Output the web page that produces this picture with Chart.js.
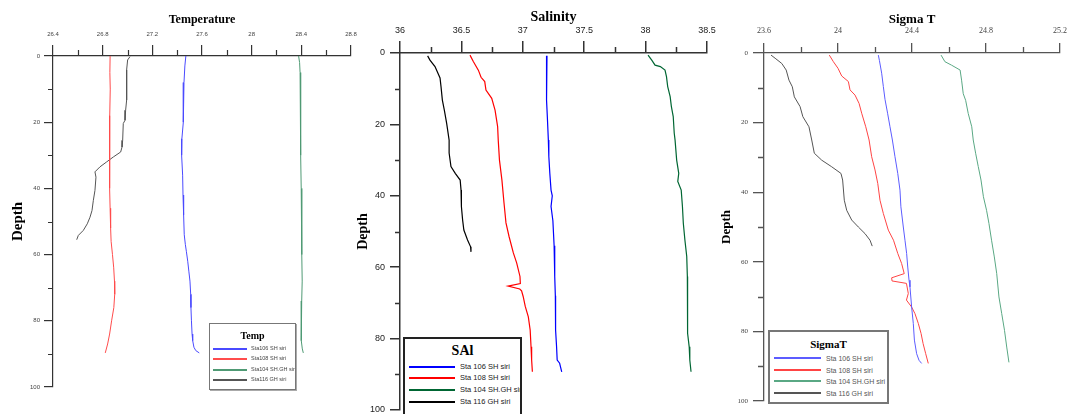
<!DOCTYPE html>
<html><head><meta charset="utf-8">
<script src="https://cdn.jsdelivr.net/npm/chart.js@4.4.1/dist/chart.umd.min.js"></script>
<style>
html,body{margin:0;padding:0;background:#fff;width:1067px;height:414px;overflow:hidden;position:relative}
canvas{position:absolute;left:0;top:0}
.lg{position:absolute;background:#fff;box-sizing:border-box;overflow:hidden}
.lg .t{position:absolute;left:0;right:0;text-align:center;font-family:'Liberation Serif','Times New Roman',serif;font-weight:bold;line-height:1;transform:translateY(-50%);color:#000}
.lg .ln{position:absolute}
.lg .tx{position:absolute;white-space:nowrap;font-family:'Liberation Sans',Arial,sans-serif;line-height:1;transform:translateY(-50%)}
</style></head><body>
<canvas id="c1" width="1067" height="414"></canvas>
<canvas id="c2" width="1067" height="414"></canvas>
<canvas id="c3" width="1067" height="414"></canvas>
<script>
// ---------- axis ticks ----------
const depthTicks = [0, 20, 40, 60, 80, 100];
const depthLabels = ['0', '20', '40', '60', '80', '100'];
const depthMinor = [10, 30, 50, 70, 90];

const tempTicks = [26.4, 26.8, 27.2, 27.6, 28, 28.4, 28.8];
const tempLabels = ['26.4', '26.8', '27.2', '27.6', '28', '28.4', '28.8'];
const tempMinor = [26.6, 27.0, 27.4, 27.8, 28.2, 28.6];

const salTicks = [36, 36.5, 37, 37.5, 38, 38.5];
const salLabels = ['36', '36.5', '37', '37.5', '38', '38.5'];
const salMinor = [36.25, 36.75, 37.25, 37.75, 38.25];

const sigTicks = [23.6, 24, 24.4, 24.8, 25.2];
const sigLabels = ['23.6', '24', '24.4', '24.8', '25.2'];
const sigMinor = [23.8, 24.2, 24.6, 25.0];

// ---------- Temperature ----------
const tempSeriesLabels = ['Sta106 SH siri', 'Sta108 SH siri', 'Sta104 SH.GH siri', 'Sta116 GH siri'];
const t106Depth = [0, 3, 8, 14, 20, 25, 30, 36, 42, 48, 54, 57, 59, 62, 65, 68, 72, 76, 80, 84, 86, 88, 89, 89.7];
const t106 = [27.47, 27.462, 27.455, 27.452, 27.447, 27.438, 27.436, 27.444, 27.447, 27.452, 27.457, 27.466, 27.474, 27.485, 27.494, 27.503, 27.509, 27.511, 27.515, 27.52, 27.525, 27.535, 27.55, 27.578];
const t108Depth = [0, 5, 10, 18, 25, 32, 40, 46, 52, 56, 60, 64, 68, 72, 76, 80, 84, 87, 89.7];
const t108 = [26.86, 26.858, 26.861, 26.857, 26.859, 26.853, 26.856, 26.86, 26.864, 26.868, 26.879, 26.889, 26.895, 26.897, 26.89, 26.872, 26.856, 26.84, 26.821];
const t104Depth = [0, 2, 5, 10, 20, 30, 40, 50, 60, 68, 74, 80, 86, 88.5, 89.7];
const t104 = [28.378, 28.386, 28.39, 28.392, 28.395, 28.397, 28.399, 28.402, 28.405, 28.407, 28.403, 28.398, 28.401, 28.408, 28.416];
const t116Depth = [0.2, 1.2, 4.2, 13.3, 16.4, 19.4, 20.4, 25.5, 27.5, 29, 30.5, 32, 33.5, 35, 36.6, 40.6, 43.6, 46.7, 48.7, 50.7, 52.7, 54.2, 55.5];
const t116 = [27.02, 27.001, 26.993, 26.993, 26.985, 26.98, 26.966, 26.961, 26.956, 26.945, 26.886, 26.832, 26.778, 26.738, 26.746, 26.738, 26.725, 26.714, 26.698, 26.676, 26.644, 26.604, 26.591];

// ---------- Salinity ----------
const salSeriesLabels = ['Sta 106 SH siri', 'Sta 108 SH siri', 'Sta 104 SH.GH siri', 'Sta 116 GH siri'];
const s106Depth = [0.8, 3.8, 8, 13.2, 18, 24.4, 29, 33.7, 38.4, 40, 43, 47, 50.5, 54, 57, 62.6, 68, 73, 77.6, 82.3, 86, 86.9, 89.3];
const s106 = [37.197, 37.19, 37.193, 37.197, 37.2, 37.208, 37.212, 37.22, 37.23, 37.24, 37.23, 37.245, 37.25, 37.255, 37.26, 37.26, 37.265, 37.27, 37.264, 37.275, 37.28, 37.30, 37.317];
const s108Depth = [0.6, 2.4, 4.8, 6.8, 8, 10.4, 12.7, 16, 20.6, 24.4, 30, 35.6, 42, 47.6, 51.4, 56, 58.8, 62.6, 64.6, 65.3, 66.1, 66.6, 68.2, 71, 73.9, 77.6, 82.3, 86, 89.3];
const s108 = [36.57, 36.597, 36.638, 36.66, 36.69, 36.70, 36.747, 36.774, 36.795, 36.80, 36.81, 36.83, 36.847, 36.863, 36.888, 36.923, 36.95, 36.977, 36.98, 36.88, 36.975, 36.99, 37.003, 37.02, 37.045, 37.06, 37.067, 37.072, 37.078];
const s104Depth = [0.6, 2, 3.4, 3.8, 4.8, 6.6, 9.4, 12.2, 15, 17.8, 22.4, 24.4, 30, 33.7, 36, 38.4, 43, 47.6, 52.4, 57, 62.6, 68, 73, 78.5, 82.3, 86, 89.3];
const s104 = [38.02, 38.05, 38.077, 38.12, 38.158, 38.17, 38.18, 38.2, 38.21, 38.225, 38.233, 38.24, 38.253, 38.27, 38.262, 38.29, 38.30, 38.307, 38.32, 38.335, 38.34, 38.343, 38.34, 38.343, 38.355, 38.36, 38.37];
const s116Depth = [0.8, 2, 3.8, 7, 9.4, 13.2, 16, 19.7, 24.4, 28, 31.8, 33.7, 35.6, 38.4, 43, 46.8, 49.6, 52.4, 54.3, 55.7];
const s116 = [36.225, 36.244, 36.285, 36.326, 36.334, 36.345, 36.361, 36.38, 36.40, 36.40, 36.415, 36.45, 36.49, 36.497, 36.50, 36.51, 36.52, 36.55, 36.575, 36.578];

// ---------- Sigma T ----------
const sigSeriesLabels = ['Sta 106 SH siri', 'Sta 108 SH siri', 'Sta 104 SH.GH siri', 'Sta 116 GH siri'];
const g106Depth = [0.6, 2.2, 5.8, 9.6, 13.3, 17.3, 21.2, 25, 29.8, 34.6, 39.4, 44.2, 50, 53.8, 57.6, 61.5, 65.3, 67.2, 73, 77.7, 82.5, 86.4, 88.3, 89.2];
const g106 = [24.218, 24.224, 24.236, 24.245, 24.254, 24.268, 24.281, 24.294, 24.308, 24.323, 24.335, 24.34, 24.353, 24.362, 24.371, 24.377, 24.384, 24.389, 24.398, 24.407, 24.413, 24.425, 24.438, 24.452];
const g108Depth = [0.6, 2.5, 4.4, 6.6, 8.2, 10.6, 12.1, 14.5, 17.3, 21.2, 25, 29.8, 33.6, 37.5, 42.3, 46.1, 50.9, 53.8, 57.6, 60.5, 63.4, 64.6, 65.5, 66.2, 69.1, 71, 73, 74.9, 77.7, 80.6, 83.5, 86.4, 89.2];
const g108 = [23.953, 23.975, 24.00, 24.02, 24.056, 24.065, 24.092, 24.114, 24.128, 24.15, 24.168, 24.182, 24.2, 24.215, 24.227, 24.245, 24.272, 24.30, 24.323, 24.344, 24.358, 24.29, 24.292, 24.37, 24.38, 24.37, 24.398, 24.416, 24.434, 24.449, 24.46, 24.474, 24.488];
const g104Depth = [0.6, 2.5, 3.5, 4.9, 7.8, 11.7, 13.6, 17.4, 21.2, 25, 28.8, 32.6, 36.5, 41.3, 45.2, 49, 53.8, 58.6, 63.4, 70.1, 74.9, 79.7, 84.5, 88.9];
const g104 = [24.557, 24.578, 24.614, 24.66, 24.668, 24.677, 24.69, 24.704, 24.723, 24.731, 24.744, 24.758, 24.773, 24.786, 24.803, 24.816, 24.83, 24.845, 24.858, 24.87, 24.885, 24.9, 24.912, 24.924];
const g116Depth = [0.6, 1.5, 3, 4.9, 7.8, 9.7, 12.6, 15.4, 18.3, 21.2, 25, 28.8, 30.8, 32.7, 34.6, 36.5, 42.3, 45.2, 48, 50, 51.9, 53.8, 55.5];
const g116 = [23.638, 23.66, 23.696, 23.72, 23.735, 23.753, 23.764, 23.795, 23.81, 23.843, 23.858, 23.872, 23.912, 23.966, 24.016, 24.025, 24.034, 24.047, 24.074, 24.11, 24.146, 24.173, 24.185];

// ---------- drawing ----------
const W = 1067, H = 414;
Chart.defaults.font.family = "'Liberation Sans', Arial, sans-serif";

const minorTicks = {
  id: 'minorTicks',
  afterDraw(chart, args, o) {
    const {ctx, chartArea: a, scales: {x, y}} = chart;
    ctx.save();
    ctx.strokeStyle = o.color; ctx.lineWidth = o.width;
    ctx.beginPath();
    o.xMinor.forEach(v => { const px = Math.round(x.getPixelForValue(v)) + 0.5; ctx.moveTo(px, a.top); ctx.lineTo(px, a.top - o.xLen); });
    o.yMinor.forEach(v => { const py = Math.round(y.getPixelForValue(v)) + 0.5; ctx.moveTo(a.left, py); ctx.lineTo(a.left - o.yLen, py); });
    ctx.stroke();
    ctx.restore();
  }
};

function makePanel(id, P) {
  const ctx = document.getElementById(id).getContext('2d');
  const zero = s => { s.paddingLeft = 0; s.paddingRight = 0; s.paddingTop = 0; s.paddingBottom = 0; };
  return new Chart(ctx, {
    type: 'scatter',
    data: {
      datasets: P.series.map(s => ({
        label: s.label,
        data: s.depth.map((d, i) => ({x: s.vals[i], y: d})),
        showLine: true, borderColor: s.color, backgroundColor: s.color,
        borderWidth: P.lineW, pointRadius: 0, pointHoverRadius: 0, tension: 0, fill: false
      }))
    },
    options: {
      responsive: false, animation: false, events: [],
      layout: {padding: {left: 0, top: 0, right: W - P.area.r, bottom: H - P.area.b}},
      plugins: {
        legend: {display: false}, tooltip: {enabled: false},
        minorTicks: {color: P.axisColor, width: P.axisW, xMinor: P.xMinor, yMinor: depthMinor, xLen: P.xMinorLen, yLen: P.yMinorLen}
      },
      scales: {
        x: {
          type: 'linear', position: 'top', min: P.xMin, max: P.xMax,
          afterBuildTicks: s => { s.ticks = P.xTicks.map(v => ({value: v})); },
          afterFit: s => { s.height = P.area.t; zero(s); },
          ticks: {autoSkip: false, maxRotation: 0, padding: P.xTickPad, font: P.xTickFont, color: P.tickColor, callback: (v, i) => P.xLabels[i]},
          grid: {drawOnChartArea: false, drawTicks: true, tickLength: P.xTickLen, color: P.axisColor, tickColor: P.axisColor, lineWidth: P.axisW, tickWidth: P.axisW},
          border: {display: true, color: P.axisColor, width: P.axisW},
          title: {display: true, text: P.title, font: P.titleFont, color: '#000', padding: {top: P.titlePad, bottom: 0}}
        },
        y: {
          type: 'linear', position: 'left', reverse: true, min: 0, max: 100,
          afterBuildTicks: s => { s.ticks = depthTicks.map(v => ({value: v})); },
          afterFit: s => { s.width = P.area.l; zero(s); },
          ticks: {autoSkip: false, padding: P.yTickPad, font: P.yTickFont, color: P.tickColor, callback: (v, i) => depthLabels[i]},
          grid: {drawOnChartArea: false, drawTicks: true, tickLength: P.yTickLen, color: P.axisColor, tickColor: P.axisColor, lineWidth: P.axisW, tickWidth: P.axisW},
          border: {display: true, color: P.axisColor, width: P.axisW},
          title: {display: true, text: 'Depth', font: P.yTitleFont, color: '#000', padding: {top: P.yTitlePad, bottom: 0}}
        }
      }
    },
    plugins: [minorTicks]
  });
}

function buildLegend(chart, L) {
  const box = document.createElement('div');
  box.className = 'lg';
  Object.assign(box.style, {left: L.x + 'px', top: L.y + 'px', width: L.w + 'px', height: L.h + 'px', border: L.border, boxShadow: L.shadow || 'none'});
  const t = document.createElement('div');
  t.className = 't'; t.textContent = L.title;
  t.style.top = L.titleY + 'px'; t.style.fontSize = L.titleSize + 'px';
  box.appendChild(t);
  chart.data.datasets.forEach((ds, i) => {
    const y = L.rows[i];
    const ln = document.createElement('div');
    ln.className = 'ln';
    Object.assign(ln.style, {left: L.lineX0 + 'px', width: (L.lineX1 - L.lineX0) + 'px', top: Math.round(y - L.lineW / 2) + 'px', height: L.lineW + 'px', background: ds.borderColor});
    box.appendChild(ln);
    const tx = document.createElement('div');
    tx.className = 'tx'; tx.textContent = ds.label;
    Object.assign(tx.style, {left: L.textX + 'px', top: y + 'px', fontSize: L.fontSize + 'px', color: L.textColor});
    box.appendChild(tx);
  });
  document.body.appendChild(box);
}

// Panel 1: Temperature
const ch1 = makePanel('c1', {
  area: {l: 53, t: 56, r: 351, b: 387},
  xMin: 26.4, xMax: 28.8, xTicks: tempTicks, xLabels: tempLabels, xMinor: tempMinor,
  title: 'Temperature', titleFont: {family: "'Liberation Serif', serif", size: 12, weight: 'bold'}, titlePad: 13,
  yTitleFont: {family: "'Liberation Serif', serif", size: 15, weight: 'bold'}, yTitlePad: 9.5,
  xTickFont: {size: 6}, yTickFont: {size: 6}, tickColor: '#444',
  xTickPad: 7, yTickPad: 4, xTickLen: 11, yTickLen: 9, xMinorLen: 6, yMinorLen: 5,
  axisColor: '#333', axisW: 1.2, lineW: 1,
  series: [
    {label: tempSeriesLabels[0], depth: t106Depth, vals: t106, color: '#4a4aff'},
    {label: tempSeriesLabels[1], depth: t108Depth, vals: t108, color: '#ff4c4c'},
    {label: tempSeriesLabels[2], depth: t104Depth, vals: t104, color: '#4f9a74'},
    {label: tempSeriesLabels[3], depth: t116Depth, vals: t116, color: '#555555'}
  ]
});
buildLegend(ch1, {x: 209, y: 323, w: 87, h: 67, border: '1px solid #777', shadow: '1px 1px 0 #aaa',
  title: 'Temp', titleY: 12, titleSize: 10, rows: [25, 35, 46, 56], lineX0: 3, lineX1: 37, lineW: 2,
  textX: 41, fontSize: 5.5, textColor: '#444'});

// Panel 2: Salinity
const ch2 = makePanel('c2', {
  area: {l: 400, t: 53, r: 707, b: 410},
  xMin: 36, xMax: 38.5, xTicks: salTicks, xLabels: salLabels, xMinor: salMinor,
  title: 'Salinity', titleFont: {family: "'Liberation Serif', serif", size: 14, weight: 'bold'}, titlePad: 9,
  yTitleFont: {family: "'Liberation Serif', serif", size: 14, weight: 'bold'}, yTitlePad: 355,
  xTickFont: {size: 9}, yTickFont: {size: 9}, tickColor: '#222',
  xTickPad: 5, yTickPad: 5, xTickLen: 12, yTickLen: 10, xMinorLen: 6, yMinorLen: 5,
  axisColor: '#333', axisW: 1.5, lineW: 1.2,
  series: [
    {label: salSeriesLabels[0], depth: s106Depth, vals: s106, color: '#0000ff'},
    {label: salSeriesLabels[1], depth: s108Depth, vals: s108, color: '#ff0000'},
    {label: salSeriesLabels[2], depth: s104Depth, vals: s104, color: '#006633'},
    {label: salSeriesLabels[3], depth: s116Depth, vals: s116, color: '#000000'}
  ]
});
buildLegend(ch2, {x: 403, y: 337, w: 119, h: 80, border: '2px solid #222',
  title: 'SAl', titleY: 12, titleSize: 14, rows: [28, 39, 51, 63], lineX0: 4, lineX1: 50, lineW: 2,
  textX: 55, fontSize: 7.5, textColor: '#222'});

// Panel 3: Sigma T
const ch3 = makePanel('c3', {
  area: {l: 764, t: 53, r: 1060, b: 401},
  xMin: 23.6, xMax: 25.2, xTicks: sigTicks, xLabels: sigLabels, xMinor: sigMinor,
  title: 'Sigma T', titleFont: {family: "'Liberation Serif', serif", size: 13, weight: 'bold'}, titlePad: 11.5,
  yTitleFont: {family: "'Liberation Serif', serif", size: 13, weight: 'bold'}, yTitlePad: 719,
  xTickFont: {family: "'Liberation Serif', serif", size: 8}, yTickFont: {family: "'Liberation Serif', serif", size: 7}, tickColor: '#444',
  xTickPad: 7, yTickPad: 5, xTickLen: 10, yTickLen: 11, xMinorLen: 6, yMinorLen: 6,
  axisColor: '#555', axisW: 1.3, lineW: 1,
  series: [
    {label: sigSeriesLabels[0], depth: g106Depth, vals: g106, color: '#5c5cff'},
    {label: sigSeriesLabels[1], depth: g108Depth, vals: g108, color: '#ff4444'},
    {label: sigSeriesLabels[2], depth: g104Depth, vals: g104, color: '#5aa884'},
    {label: sigSeriesLabels[3], depth: g116Depth, vals: g116, color: '#555555'}
  ]
});
buildLegend(ch3, {x: 768, y: 330, w: 121, h: 74, border: '2px solid #777',
  title: 'SigmaT', titleY: 12, titleSize: 11, rows: [26, 38, 49, 61], lineX0: 4, lineX1: 51, lineW: 2,
  textX: 56, fontSize: 7, textColor: '#555'});
</script>
</body></html>
